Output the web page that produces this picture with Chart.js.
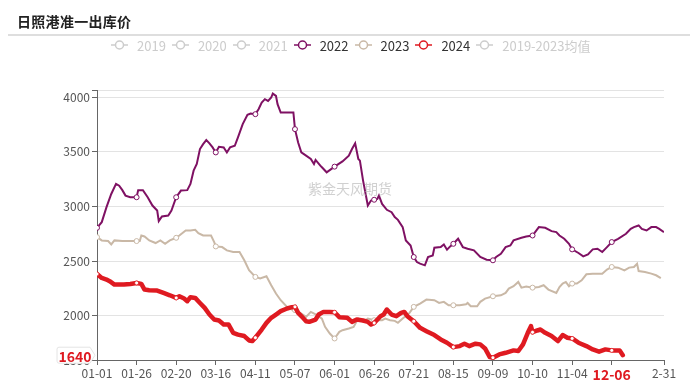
<!DOCTYPE html>
<html>
<head>
<meta charset="utf-8">
<script src="https://cdn.jsdelivr.net/npm/chart.js@4"></script>
<style>
  body { margin: 0; background: #fff; font-family: "Noto Sans CJK SC", "Noto Sans", sans-serif; }
  #wrap { position: relative; width: 700px; height: 382px; overflow: hidden; }
  #chart { position: absolute; left: 0; top: 0; }
  #title { position: absolute; left: 17px; top: 11px; font-size: 14px; font-weight: 700; color: #222; letter-spacing: 0.3px; }
  #sep { position: absolute; left: 8px; top: 34px; width: 682px; height: 2px; background: #dedede; }
  #legend { position: absolute; left: 111px; top: 37px; display: flex; align-items: center; font-size: 13px; }
  .item { display: flex; align-items: center; margin-right: 6px; height: 16px; }
  .item svg { margin-right: 9px; }
  #mark { position: absolute; left: 308px; top: 178px; font-size: 14px; color: rgba(170,170,170,0.55); }
</style>
</head>
<body>
<div id="wrap">
  <canvas id="chart" width="700" height="382"></canvas>
  <div id="title">日照港准一出库价</div>
  <div id="sep"></div>
  <div id="legend"></div>
  <div id="mark">紫金天风期货</div>
</div>
<script>
// x = day index along the year axis (0 = 01-01, 358 = 12-31)
const tickPos = [0, 25, 50, 75, 100, 125, 150, 175, 200, 225, 250, 275, 300, 325, 358];
const tickLabels = ["01-01", "01-26", "02-20", "03-16", "04-11", "05-07", "06-01", "06-26", "07-21", "08-15", "09-09", "10-10", "11-04", "12-06", "2-31"];
const currentLabel = "12-06";

const legendNames = ["2019", "2020", "2021", "2022", "2023", "2024", "2019-2023均值"];
const legendShown = [false, false, false, true, true, true, false];

const x22 = [0,3,6,9,12,14,16,18,21,25,26,29,32,35,38,39,41,45,47,50,53,57,59,61,63,65,67,69,71,73,75,77,80,82,84,87,89,92,95,97,100,102,104,106,108,110,111,113,114,116,124,125,127,129,132,135,137,138,141,142,145,150,155,159,161,163,165,166,168,171,173,175,177,178,180,183,186,188,190,193,195,198,200,202,204,207,209,212,213,217,219,221,223,225,228,231,234,238,242,246,250,252,255,258,261,263,268,271,275,279,283,287,290,292,295,298,300,304,307,310,313,316,319,322,325,329,334,337,339,342,344,347,350,353,355,358];
const y22 = [2805,2857,2994,3115,3207,3190,3150,3100,3085,3085,3150,3150,3085,3009,2963,2866,2909,2918,2963,3085,3146,3150,3207,3328,3389,3526,3571,3608,3578,3541,3495,3547,3541,3495,3541,3556,3632,3754,3839,3851,3845,3890,3951,3982,3966,3997,4033,4012,3936,3860,3860,3708,3586,3495,3465,3435,3389,3426,3374,3359,3313,3365,3413,3465,3526,3578,3435,3420,3237,3009,3055,3062,3070,3100,3024,2970,2948,2903,2878,2812,2690,2644,2538,2492,2477,2462,2538,2553,2623,2629,2653,2605,2635,2659,2705,2629,2614,2599,2538,2514,2508,2538,2568,2629,2644,2690,2714,2726,2735,2812,2805,2775,2766,2735,2705,2659,2608,2575,2544,2562,2608,2614,2584,2629,2675,2705,2751,2796,2812,2827,2796,2781,2812,2812,2796,2766];

const x23 = [0,3,7,9,11,16,25,27,28,30,33,37,40,43,46,50,52,56,59,62,64,67,72,74,75,79,82,86,90,93,96,100,103,107,110,113,116,120,123,125,129,132,135,139,142,144,147,150,153,155,159,162,165,168,171,175,180,182,185,188,190,193,197,200,204,208,213,216,219,222,225,229,233,234,236,240,242,245,250,255,258,260,263,266,268,271,275,279,282,285,290,292,294,296,298,300,303,306,309,313,319,322,325,329,333,336,339,341,342,346,350,353,356];
const y23 = [2720,2690,2684,2653,2690,2684,2684,2684,2735,2726,2690,2666,2690,2659,2690,2714,2735,2781,2781,2787,2757,2735,2735,2675,2635,2629,2599,2584,2584,2508,2417,2356,2341,2362,2280,2204,2143,2082,2058,2052,2021,1991,2036,2006,1975,1899,1838,1793,1854,1869,1884,1899,1975,1945,1975,1960,1960,1975,1960,1954,1936,1975,2021,2082,2112,2149,2143,2118,2128,2097,2097,2097,2106,2118,2088,2088,2128,2158,2179,2188,2210,2249,2271,2310,2258,2268,2258,2264,2280,2240,2210,2264,2295,2310,2271,2295,2295,2325,2380,2386,2386,2423,2447,2441,2416,2441,2447,2477,2410,2401,2386,2371,2345];

const x24 = [0,3,6,8,11,17,21,25,28,30,33,38,42,46,50,52,55,57,59,62,65,68,71,74,77,80,83,86,89,93,96,98,100,104,107,110,113,116,120,123,125,127,130,132,134,138,140,143,147,150,153,158,161,164,168,171,173,175,179,181,183,186,189,192,194,196,200,204,208,213,217,221,225,229,232,235,239,242,245,248,250,254,258,263,266,269,272,274,275,278,280,283,287,291,294,297,300,304,309,313,317,321,325,330,332];
const y24 = [2383,2347,2332,2317,2286,2286,2292,2301,2292,2240,2234,2231,2210,2188,2164,2179,2158,2134,2170,2164,2118,2073,2012,1966,1957,1921,1921,1845,1828,1815,1775,1769,1800,1875,1936,1982,2012,2043,2067,2079,2082,2027,1982,1951,1945,1966,2012,2036,2036,2033,1988,1982,1945,1966,1957,1945,1920,1935,1997,2012,2058,2012,1997,2027,2036,1997,1951,1890,1860,1824,1784,1754,1714,1723,1745,1723,1745,1739,1702,1623,1617,1647,1662,1684,1678,1739,1845,1906,1850,1866,1875,1845,1815,1769,1824,1800,1793,1754,1723,1693,1672,1693,1684,1684,1640];

const yMin = 1596, yMax = 4066;
const yTicks = [1596, 2000, 2500, 3000, 3500, 4000, 4066];

const colors = { "2019": "#ccc", "2020": "#ccc", "2021": "#ccc", "2022": "#7f1163", "2023": "#c9b8a6", "2024": "#df1a21", "2019-2023均值": "#ccc" };

function pts(xs, ys) {
  return xs.map((x, i) => ({ x: x, y: ys[i] }));
}

function dotRadius(r) {
  return ctx => {
    const x = ctx.raw && ctx.raw.x;
    return (x % 25 === 0 && x <= 325) ? r : 0;
  };
}

// legend (html)
const legend = document.getElementById("legend");
legendNames.forEach((name, i) => {
  const c = legendShown[i] ? colors[name] : "#ccc";
  const item = document.createElement("div");
  item.className = "item";
  item.innerHTML = `<svg width="17" height="12"><line x1="0" y1="6" x2="17" y2="6" stroke="${c}" stroke-width="1.5"/><circle cx="8.5" cy="6" r="4" fill="#fff" stroke="${c}" stroke-width="1.5"/></svg><span style="color:${legendShown[i] ? '#333' : '#ccc'}">${name}</span>`;
  legend.appendChild(item);
});

// last value label on y axis
const lastLabel = {
  id: "lastLabel",
  afterDraw(chart) {
    const ctx = chart.ctx;
    const v = y24[y24.length - 1];
    const y = chart.scales.y.getPixelForValue(v);
    ctx.save();
    ctx.fillStyle = "#fff";
    ctx.strokeStyle = "#e4e4e4";
    ctx.lineWidth = 1;
    ctx.beginPath();
    ctx.moveTo(59, y - 8);
    ctx.lineTo(90, y - 8);
    ctx.lineTo(95, y);
    ctx.lineTo(90, y + 8);
    ctx.lineTo(59, y + 8);
    ctx.quadraticCurveTo(57, y + 8, 57, y + 6);
    ctx.lineTo(57, y - 6);
    ctx.quadraticCurveTo(57, y - 8, 59, y - 8);
    ctx.closePath();
    ctx.fill();
    ctx.stroke();
    ctx.fillStyle = "#df1a21";
    ctx.font = "bold 14px 'Noto Sans CJK SC', sans-serif";
    ctx.textAlign = "center";
    ctx.textBaseline = "middle";
    ctx.fillText(String(v), 75, y + 1);
    ctx.restore();
  }
};

new Chart(document.getElementById("chart").getContext("2d"), {
  type: "line",
  data: {
    datasets: [
      { label: "2022", data: pts(x22, y22), borderColor: colors["2022"], borderWidth: 2, pointRadius: dotRadius(2.5), pointBackgroundColor: "#fff", pointBorderColor: colors["2022"], pointBorderWidth: 1, order: 3 },
      { label: "2023", data: pts(x23, y23), borderColor: colors["2023"], borderWidth: 2, pointRadius: dotRadius(2.5), pointBackgroundColor: "#fff", pointBorderColor: colors["2023"], pointBorderWidth: 1, order: 2 },
      { label: "2024", data: pts(x24, y24), borderColor: colors["2024"], borderWidth: 4.5, borderJoinStyle: "round", borderCapStyle: "round", pointRadius: dotRadius(2), pointBackgroundColor: "#fff", pointBorderColor: colors["2024"], pointBorderWidth: 0.8, order: 1 }
    ]
  },
  options: {
    responsive: false,
    animation: false,
    layout: { padding: { top: 90, right: 36, left: 0, bottom: 0 } },
    plugins: { legend: { display: false }, tooltip: { enabled: false } },
    elements: { line: { tension: 0 } },
    scales: {
      x: {
        type: "linear",
        min: 0,
        max: 358,
        afterBuildTicks: s => { s.ticks = tickPos.map(v => ({ value: v })); },
        afterFit: s => { s.height = 22; },
        grid: { drawOnChartArea: false, drawTicks: true, tickLength: 5, tickColor: "#666" },
        border: { color: "#666", width: 1 },
        ticks: {
          autoSkip: false,
          maxRotation: 0,
          padding: 1,
          callback: (v, i) => tickLabels[i],
          color: c => tickLabels[c.index] === currentLabel ? "#df1a21" : "#555",
          font: c => tickLabels[c.index] === currentLabel
            ? { size: 14, weight: "bold", family: "'Noto Sans CJK SC', sans-serif" }
            : { size: 12, family: "'Noto Sans CJK SC', sans-serif" }
        }
      },
      y: {
        min: yMin,
        max: yMax,
        afterBuildTicks: s => { s.ticks = yTicks.map(v => ({ value: v })); },
        afterFit: s => { s.width = 97; },
        grid: { color: "#e3e3e3", tickColor: "#666", tickLength: 5 },
        border: { color: "#666", width: 1 },
        ticks: {
          padding: 2,
          color: "#555",
          font: { size: 12, family: "'Noto Sans CJK SC', sans-serif" },
          callback: v => v === yMax ? "" : v
        }
      }
    }
  },
  plugins: [lastLabel]
});
</script>
</body>
</html>
